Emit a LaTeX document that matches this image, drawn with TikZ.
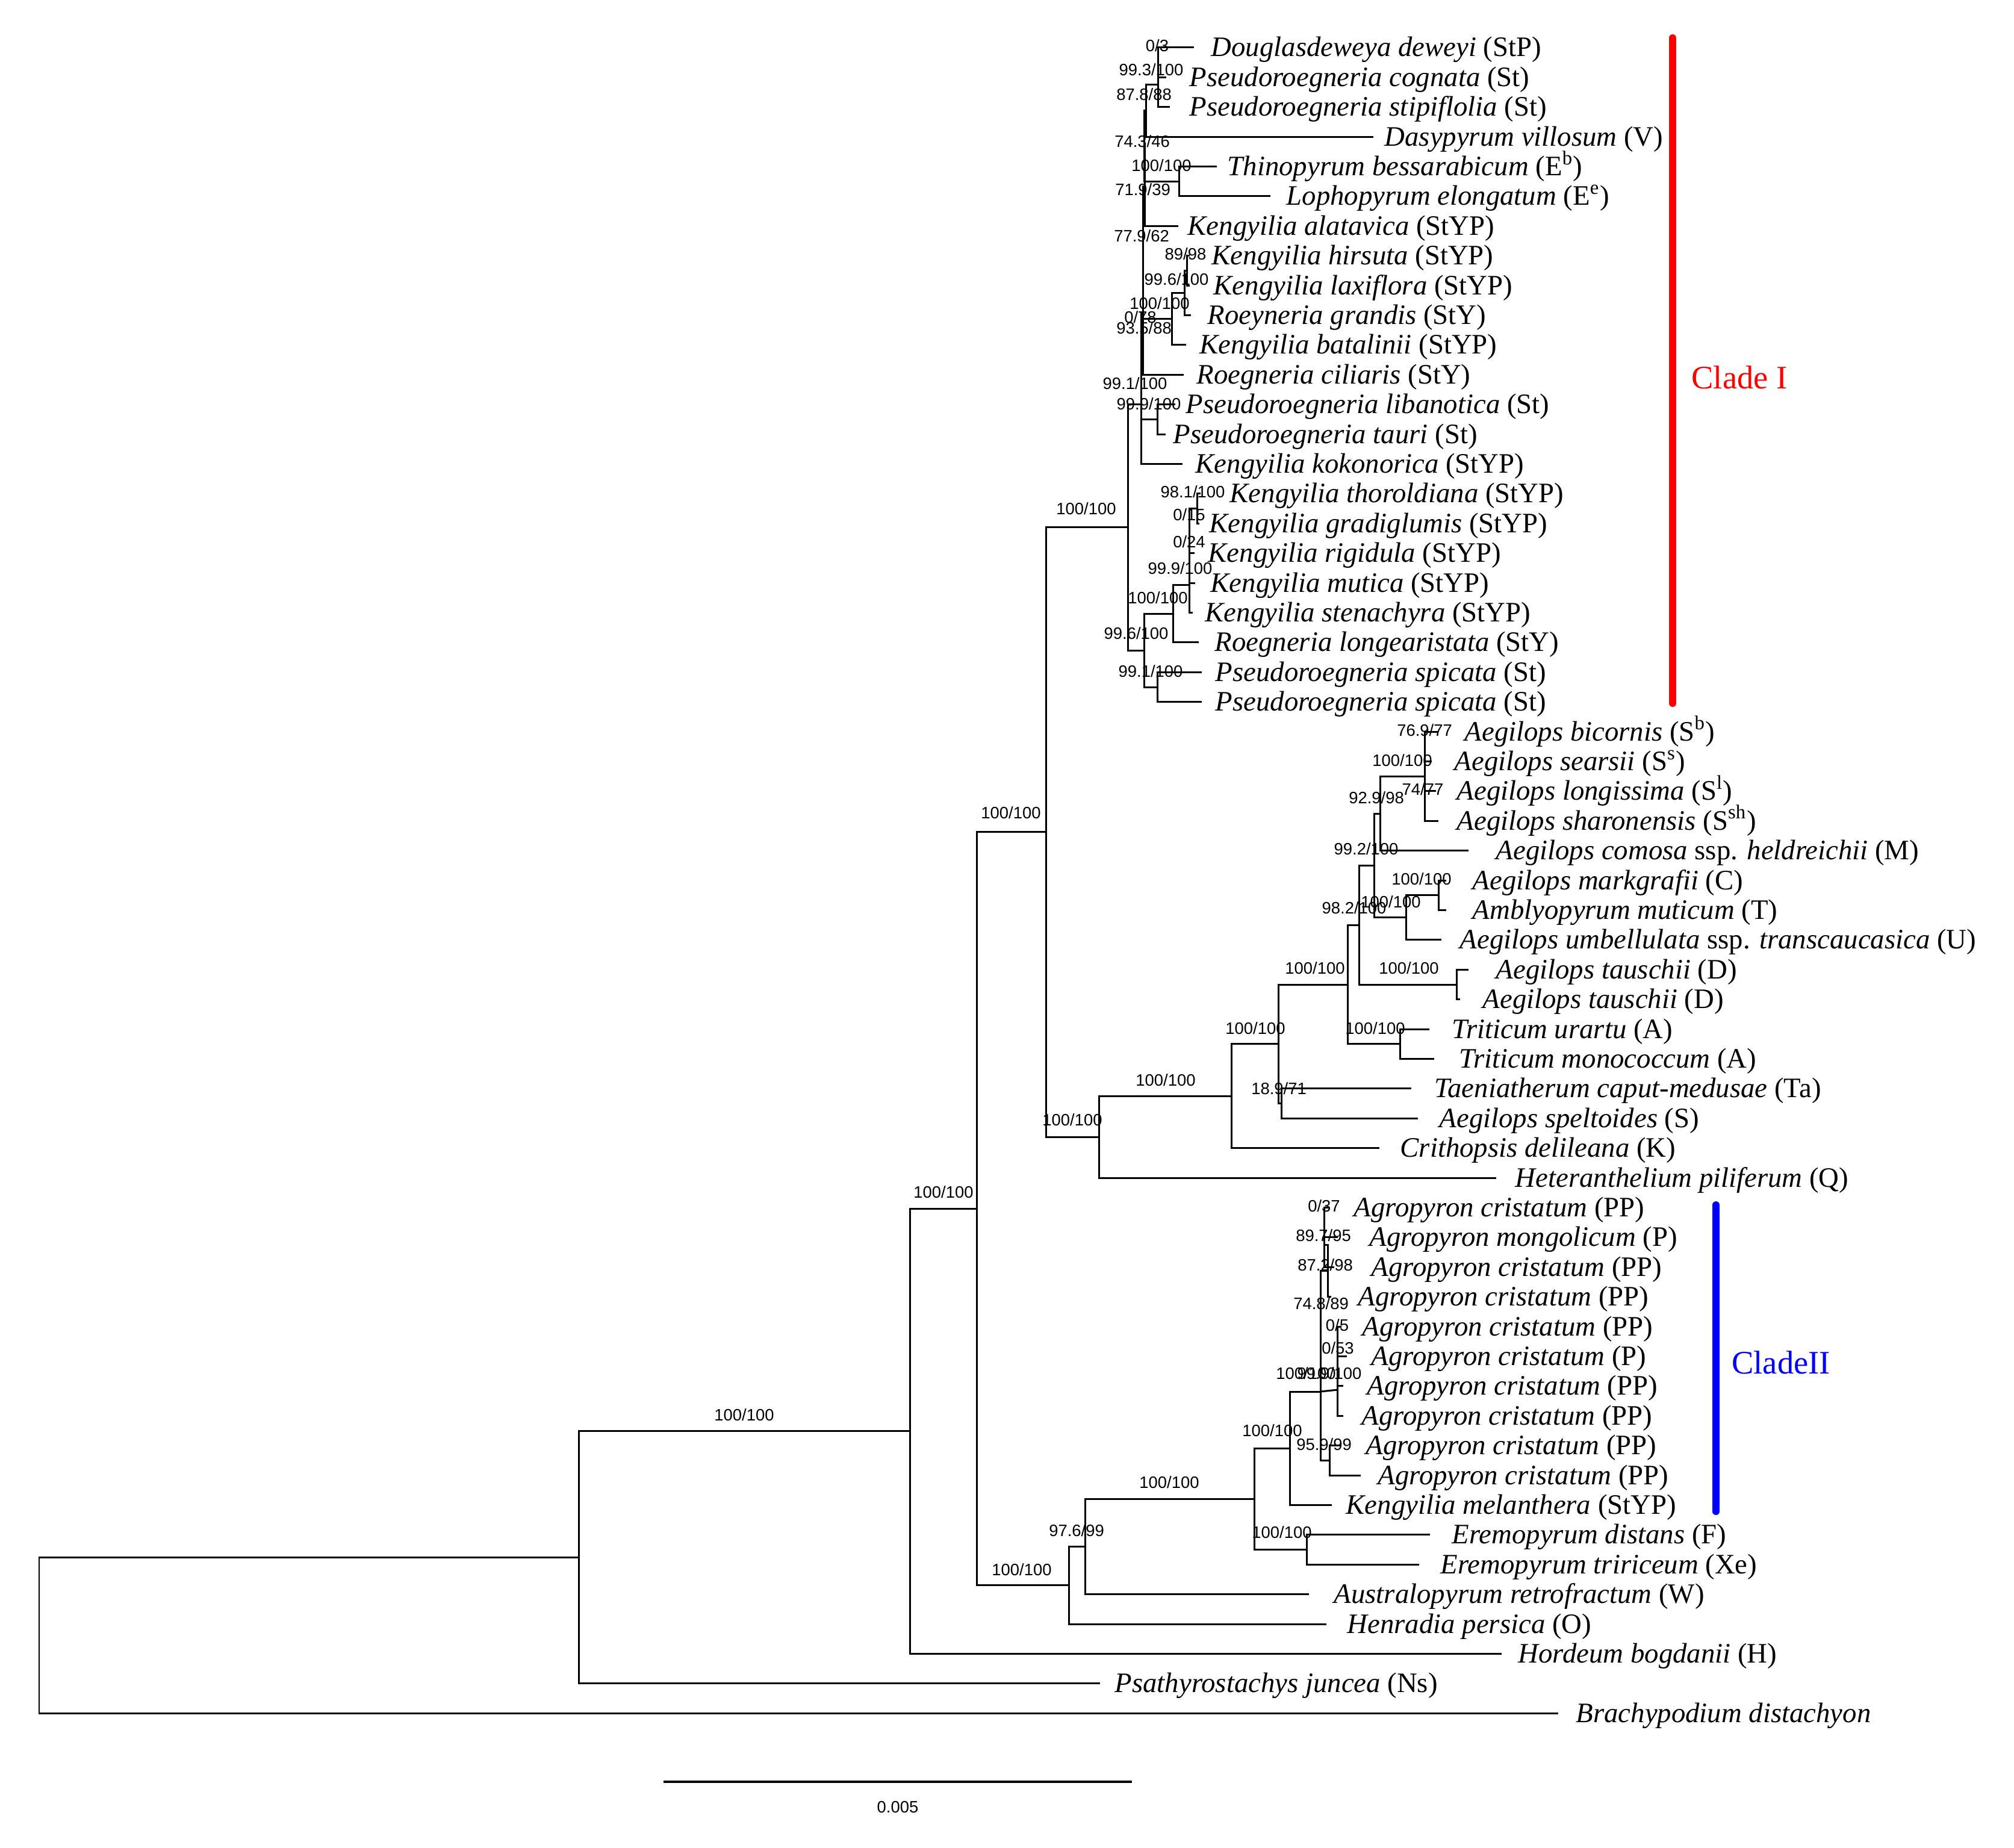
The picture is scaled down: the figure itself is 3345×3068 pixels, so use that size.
\documentclass[tikz,border=0pt]{standalone}
\usepackage{fontspec}
\setmainfont{Liberation Serif}
\newfontfamily\supportfont{Liberation Sans}
\begin{document}
\begin{tikzpicture}[x=0.01cm, y=-0.01cm,
  br/.style={line width=0.85pt, line join=miter},
  tax/.style={anchor=base west, inner sep=0pt, font=\fontsize{13.3}{16}\selectfont},
  sup/.style={anchor=center, inner sep=0pt, font=\supportfont\fontsize{7.8}{9}\selectfont},
  cladebar/.style={line width=3.4pt, line cap=round},
  cladetxt/.style={anchor=center, inner sep=0pt, font=\fontsize{15.5}{18}\selectfont}
]
\useasboundingbox (0,0) rectangle (3345,3068);
% ---------- tip branch ends ----------
\coordinate (t1) at (1983,78.9);   \coordinate (t2) at (1937,128.3);
\coordinate (t3) at (1943,177.7);  \coordinate (t4) at (2281,227.1);
\coordinate (t5) at (2021,276.5);  \coordinate (t6) at (2110,325.9);
\coordinate (t7) at (1957,375.3);  \coordinate (t8) at (1976,424.7);
\coordinate (t9) at (1976,474.1);  \coordinate (t10) at (1978,523.5);
\coordinate (t11) at (1970,572.9); \coordinate (t12) at (1966,622.3);
\coordinate (t13) at (1952,671.7); \coordinate (t14) at (1936,721.1);
\coordinate (t15) at (1964,770.5); \coordinate (t16) at (1994,819.9);
\coordinate (t17) at (1992,869.3); \coordinate (t18) at (1984,918.7);
\coordinate (t19) at (1985,968.1); \coordinate (t20) at (1981,1017.5);
\coordinate (t21) at (1991,1066.9);\coordinate (t22) at (1996,1116.3);
\coordinate (t23) at (1996,1165.7);\coordinate (t24) at (2389,1215.1);
\coordinate (t25) at (2378,1264.5);\coordinate (t26) at (2385,1313.9);
\coordinate (t27) at (2389,1363.3);\coordinate (t28) at (2439,1412.7);
\coordinate (t29) at (2402,1462.1);\coordinate (t30) at (2402,1511.5);
\coordinate (t31) at (2394,1560.9);\coordinate (t32) at (2439,1610.3);
\coordinate (t33) at (2425,1659.7);\coordinate (t34) at (2374,1709.1);
\coordinate (t35) at (2382,1758.5);\coordinate (t36) at (2344,1807.9);
\coordinate (t37) at (2355,1857.3);\coordinate (t38) at (2291,1906.7);
\coordinate (t39) at (2485,1956.1);\coordinate (t40) at (2208,2005.5);
\coordinate (t41) at (2222,2054.9);\coordinate (t42) at (2216,2104.3);
\coordinate (t43) at (2211,2153.7);\coordinate (t44) at (2228,2203.1);
\coordinate (t45) at (2237,2252.5);\coordinate (t46) at (2231,2301.9);
\coordinate (t47) at (2231,2351.3);\coordinate (t48) at (2228,2400.7);
\coordinate (t49) at (2260,2450.1);\coordinate (t50) at (2212,2499.5);
\coordinate (t51) at (2375,2548.9);\coordinate (t52) at (2357,2598.3);
\coordinate (t53) at (2174,2647.7);\coordinate (t54) at (2203,2697.1);
\coordinate (t55) at (2494,2746.5);\coordinate (t56) at (1827,2795.9);
\coordinate (t57) at (2588,2845.3);
% ---------- internal nodes ----------
\coordinate (TA) at (1923,103.6);  \coordinate (TB) at (1923,140.65);
\coordinate (D) at (1903,183.9);   \coordinate (TL) at (1958,301.2);
\coordinate (E) at (1900,242.6);   \coordinate (F) at (1901,309);
\coordinate (KH) at (1971,449.4);  \coordinate (KG) at (1967,486.5);
\coordinate (KB) at (1946,529.7);  \coordinate (G) at (1898,419.4);
\coordinate (H) at (1898,520.9);   \coordinate (LT) at (1922,696.4);
\coordinate (U) at (1895,671);
\coordinate (KT1) at (1988,844.6); \coordinate (KT2) at (1975,881.7);
\coordinate (KT3) at (1975,924.9); \coordinate (KT4) at (1975,971.2);
\coordinate (RL) at (1948,1019.1); \coordinate (SP) at (1922,1141);
\coordinate (L) at (1900,1080.1);  \coordinate (C1) at (1873,875.5);
\coordinate (SA) at (2366,1239.8); \coordinate (SB) at (2366,1338.6);
\coordinate (SG) at (2366,1289.2); \coordinate (AS) at (2292,1351);
\coordinate (MA) at (2389,1486.8); \coordinate (AU) at (2335,1523.9);
\coordinate (AD) at (2282,1437.4); \coordinate (Tau) at (2419,1635);
\coordinate (AC) at (2257,1536.2); \coordinate (TR) at (2325,1733.8);
\coordinate (Z) at (2238,1635);    \coordinate (TS) at (2128,1832.6);
\coordinate (N7) at (2123,1733.8); \coordinate (N6) at (2045,1820.3);
\coordinate (N5) at (1825,1888.2); \coordinate (N4) at (1737,1381.8);
\coordinate (A1) at (2199,2030.2); \coordinate (A2) at (2199,2067.3);
\coordinate (A3) at (2205,2110.5);
\coordinate (P1) at (2221,2227.8); \coordinate (P2) at (2221,2264.9);
\coordinate (P3) at (2221,2308.1); \coordinate (AQ) at (2208,2425.4);
\coordinate (AG) at (2193,2311);   \coordinate (M) at (2142,2405.3);
\coordinate (ER) at (2170,2573.6); \coordinate (EC) at (2083,2489.5);
\coordinate (AR) at (1802,2568.6); \coordinate (NL) at (1775,2632.9);
\coordinate (N3) at (1622,2007.3); \coordinate (N2) at (1511,2376.9);
\coordinate (N1) at (961,2586.4);  \coordinate (R) at (65,2715.8);
% ---------- branches ----------
\draw[br] (t1) -| (TA) |- (t2);
\draw[br] (TA) -| (TB) |- (t3);
\draw[br] (TB) -| (D) |- (t4);
\draw[br] (t5) -| (TL) |- (t6);
\draw[br] (D) -| (E) |- (TL);
\draw[br] (E) -| (F) |- (t7);
\draw[br] (t8) -| (KH) |- (t9);
\draw[br] (KH) -| (KG) |- (t10);
\draw[br] (KG) -| (KB) |- (t11);
\draw[br] (F) -| (G) |- (KB);
\draw[br] (G) -| (H) |- (t12);
\draw[br] (t13) -| (LT) |- (t14);
\draw[br] (H) -| (U) |- (LT);
\draw[br] (U) |- (t15);
\draw[br] (t16) -| (KT1) |- (t17);
\draw[br] (KT1) -| (KT2) |- (t18);
\draw[br] (KT2) -| (KT3) |- (t19);
\draw[br] (KT3) -| (KT4) |- (t20);
\draw[br] (KT4) -| (RL) |- (t21);
\draw[br] (t22) -| (SP) |- (t23);
\draw[br] (RL) -| (L) |- (SP);
\draw[br] (U) -| (C1) |- (L);
\draw[br] (t24) -| (SA) |- (t25);
\draw[br] (t26) -| (SB) |- (t27);
\draw[br] (SA) -| (SG) |- (SB);
\draw[br] (SG) -| (AS) |- (t28);
\draw[br] (t29) -| (MA) |- (t30);
\draw[br] (MA) -| (AU) |- (t31);
\draw[br] (AS) -| (AD) |- (AU);
\draw[br] (t32) -| (Tau) |- (t33);
\draw[br] (AD) -| (AC) |- (Tau);
\draw[br] (t34) -| (TR) |- (t35);
\draw[br] (AC) -| (Z) |- (TR);
\draw[br] (t36) -| (TS) |- (t37);
\draw[br] (Z) -| (N7) |- (TS);
\draw[br] (N7) -| (N6) |- (t38);
\draw[br] (N6) -| (N5) |- (t39);
\draw[br] (C1) -| (N4) |- (N5);
\draw[br] (t40) -| (A1) |- (t41);
\draw[br] (A1) -| (A2) |- (t42);
\draw[br] (A2) -| (A3) |- (t43);
\draw[br] (t44) -| (P1) |- (t45);
\draw[br] (P1) -| (P2) |- (t46);
\draw[br] (P2) -| (P3) |- (t47);
\draw[br] (t48) -| (AQ) |- (t49);
\draw[br] (A3) -| (AG) |- (AQ);
\draw[br] (AG) -- (P3);
\draw[br] (AG) -| (M) |- (t50);
\draw[br] (t51) -| (ER) |- (t52);
\draw[br] (M) -| (EC) |- (ER);
\draw[br] (EC) -| (AR) |- (t53);
\draw[br] (AR) -| (NL) |- (t54);
\draw[br] (N4) -| (N3) |- (NL);
\draw[br] (N3) -| (N2) |- (t55);
\draw[br] (N2) -| (N1) |- (t56);
\draw[br] (N1) -| (R) |- (t57);
% ---------- taxon labels ----------
\node[tax] (l1) at (2011,93.9) {\textit{Douglasdeweya deweyi} (StP)};
\node[tax] (l2) at (1975,143.3) {\textit{Pseudoroegneria cognata} (St)};
\node[tax] (l3) at (1975,192.7) {\textit{Pseudoroegneria stipiflolia} (St)};
\node[tax] (l4) at (2299,242.1) {\textit{Dasypyrum villosum} (V)};
\node[tax] (l5) at (2038,291.5) {\textit{Thinopyrum bessarabicum} (E\textsuperscript{b})};
\node[tax] (l6) at (2136,340.9) {\textit{Lophopyrum elongatum} (E\textsuperscript{e})};
\node[tax] (l7) at (1972,390.3) {\textit{Kengyilia alatavica} (StYP)};
\node[tax] (l8) at (2012,439.7) {\textit{Kengyilia hirsuta} (StYP)};
\node[tax] (l9) at (2015,489.1) {\textit{Kengyilia laxiflora} (StYP)};
\node[tax] (l10) at (2005,538.5) {\textit{Roeyneria grandis} (StY)};
\node[tax] (l11) at (1992,587.9) {\textit{Kengyilia batalinii} (StYP)};
\node[tax] (l12) at (1987,637.3) {\textit{Roegneria ciliaris} (StY)};
\node[tax] (l13) at (1969,686.7) {\textit{Pseudoroegneria libanotica} (St)};
\node[tax] (l14) at (1948,736.1) {\textit{Pseudoroegneria tauri} (St)};
\node[tax] (l15) at (1985,785.5) {\textit{Kengyilia kokonorica} (StYP)};
\node[tax] (l16) at (2042,834.9) {\textit{Kengyilia thoroldiana} (StYP)};
\node[tax] (l17) at (2008,884.3) {\textit{Kengyilia gradiglumis} (StYP)};
\node[tax] (l18) at (2006,933.7) {\textit{Kengyilia rigidula} (StYP)};
\node[tax] (l19) at (2010,983.1) {\textit{Kengyilia mutica} (StYP)};
\node[tax] (l20) at (2001,1032.5) {\textit{Kengyilia stenachyra} (StYP)};
\node[tax] (l21) at (2017,1081.9) {\textit{Roegneria longearistata} (StY)};
\node[tax] (l22) at (2018,1131.3) {\textit{Pseudoroegneria spicata} (St)};
\node[tax] (l23) at (2018,1180.7) {\textit{Pseudoroegneria spicata} (St)};
\node[tax] (l24) at (2432,1230.1) {\textit{Aegilops bicornis} (S\textsuperscript{b})};
\node[tax] (l25) at (2415,1279.5) {\textit{Aegilops searsii} (S\textsuperscript{s})};
\node[tax] (l26) at (2419,1328.9) {\textit{Aegilops longissima} (S\textsuperscript{l})};
\node[tax] (l27) at (2419,1378.3) {\textit{Aegilops sharonensis} (S\textsuperscript{sh})};
\node[tax] (l28) at (2484,1427.7) {\textit{Aegilops comosa} ssp. \textit{heldreichii} (M)};
\node[tax] (l29) at (2445,1477.1) {\textit{Aegilops markgrafii} (C)};
\node[tax] (l30) at (2445,1526.5) {\textit{Amblyopyrum muticum} (T)};
\node[tax] (l31) at (2424,1575.9) {\textit{Aegilops umbellulata} ssp. \textit{transcaucasica} (U)};
\node[tax] (l32) at (2484,1625.3) {\textit{Aegilops tauschii} (D)};
\node[tax] (l33) at (2462,1674.7) {\textit{Aegilops tauschii} (D)};
\node[tax] (l34) at (2411,1724.1) {\textit{Triticum urartu} (A)};
\node[tax] (l35) at (2423,1773.5) {\textit{Triticum monococcum} (A)};
\node[tax] (l36) at (2382,1822.9) {\textit{Taeniatherum caput-medusae} (Ta)};
\node[tax] (l37) at (2390,1872.3) {\textit{Aegilops speltoides} (S)};
\node[tax] (l38) at (2325,1921.7) {\textit{Crithopsis delileana} (K)};
\node[tax] (l39) at (2516,1971.1) {\textit{Heteranthelium piliferum} (Q)};
\node[tax] (l40) at (2248,2020.5) {\textit{Agropyron cristatum} (PP)};
\node[tax] (l41) at (2274,2069.9) {\textit{Agropyron mongolicum} (P)};
\node[tax] (l42) at (2277,2119.3) {\textit{Agropyron cristatum} (PP)};
\node[tax] (l43) at (2255,2168.7) {\textit{Agropyron cristatum} (PP)};
\node[tax] (l44) at (2262,2218.1) {\textit{Agropyron cristatum} (PP)};
\node[tax] (l45) at (2277,2267.5) {\textit{Agropyron cristatum} (P)};
\node[tax] (l46) at (2270,2316.9) {\textit{Agropyron cristatum} (PP)};
\node[tax] (l47) at (2261,2366.3) {\textit{Agropyron cristatum} (PP)};
\node[tax] (l48) at (2268,2415.7) {\textit{Agropyron cristatum} (PP)};
\node[tax] (l49) at (2288,2465.1) {\textit{Agropyron cristatum} (PP)};
\node[tax] (l50) at (2235,2514.5) {\textit{Kengyilia melanthera} (StYP)};
\node[tax] (l51) at (2411,2563.9) {\textit{Eremopyrum distans} (F)};
\node[tax] (l52) at (2392,2613.3) {\textit{Eremopyrum tririceum} (Xe)};
\node[tax] (l53) at (2215,2662.7) {\textit{Australopyrum retrofractum} (W)};
\node[tax] (l54) at (2237,2712.1) {\textit{Henradia persica} (O)};
\node[tax] (l55) at (2521,2761.5) {\textit{Hordeum bogdanii} (H)};
\node[tax] (l56) at (1851,2810.9) {\textit{Psathyrostachys juncea} (Ns)};
\node[tax] (l57) at (2617,2860.3) {\textit{Brachypodium distachyon}};
% ---------- support values ----------
\node[sup] (s1) at (1922,76) {0/3};
\node[sup] (s2) at (1912,116) {99.3/100};
\node[sup] (s3) at (1900,157) {87.8/88};
\node[sup] (s4) at (1897,235) {74.3/46};
\node[sup] (s5) at (1929,275) {100/100};
\node[sup] (s6) at (1898,315) {71.9/39};
\node[sup] (s7) at (1896,392) {77.9/62};
\node[sup] (s8) at (1969,422) {89/98};
\node[sup] (s9) at (1954,464) {99.6/100};
\node[sup] (s10) at (1926,504) {100/100};
\node[sup] (s11) at (1894,527) {0/78};
\node[sup] (s12) at (1900,545) {93.5/88};
\node[sup] (s13) at (1885,637) {99.1/100};
\node[sup] (s14) at (1908,671) {99.9/100};
\node[sup] (s15) at (1981,817) {98.1/100};
\node[sup] (s16) at (1975,855) {0/15};
\node[sup] (s17) at (1975,900) {0/24};
\node[sup] (s18) at (1960,944) {99.9/100};
\node[sup] (s19) at (1923,993) {100/100};
\node[sup] (s20) at (1887,1052) {99.6/100};
\node[sup] (s21) at (1911,1115) {99.1/100};
\node[sup] (s22) at (1804,845) {100/100};
\node[sup] (s23) at (1679,1350) {100/100};
\node[sup] (s24) at (2366,1213) {76.9/77};
\node[sup] (s25) at (2329,1263) {100/100};
\node[sup] (s26) at (2363,1311) {74/77};
\node[sup] (s27) at (2286,1325) {92.9/98};
\node[sup] (s28) at (2269,1410) {99.2/100};
\node[sup] (s29) at (2361,1460) {100/100};
\node[sup] (s30) at (2310,1498) {100/100};
\node[sup] (s31) at (2249,1508) {98.2/100};
\node[sup] (s32) at (2340,1608) {100/100};
\node[sup] (s33) at (2184,1608) {100/100};
\node[sup] (s34) at (2284,1708) {100/100};
\node[sup] (s35) at (2085,1708) {100/100};
\node[sup] (s36) at (1936,1794) {100/100};
\node[sup] (s37) at (2124,1808) {18.9/71};
\node[sup] (s38) at (1781,1860) {100/100};
\node[sup] (s39) at (2199,2003) {0/37};
\node[sup] (s40) at (2198,2052) {89.7/95};
\node[sup] (s41) at (2201,2101) {87.2/98};
\node[sup] (s42) at (2194,2165) {74.8/89};
\node[sup] (s43) at (2221,2201) {0/5};
\node[sup] (s44) at (2222,2239) {0/53};
\node[sup] (s45) at (2169,2281) {100/100};
\node[sup] (s46) at (2208,2281) {99.9/100};
\node[sup] (s47) at (2199,2399) {95.9/99};
\node[sup] (s48) at (2113,2376) {100/100};
\node[sup] (s49) at (1942,2462) {100/100};
\node[sup] (s50) at (2129,2545) {100/100};
\node[sup] (s51) at (1788,2542) {97.6/99};
\node[sup] (s52) at (1697,2607) {100/100};
\node[sup] (s53) at (1567,1980) {100/100};
\node[sup] (s54) at (1236,2350) {100/100};
% ---------- clade bars ----------
\coordinate (ca1) at (2778,63);  \coordinate (ca2) at (2778,1168);
\draw[cladebar, red] (ca1) -- (ca2);
\node[cladetxt, text=red] (cl1) at (2889,627) {Clade I};
\coordinate (cb1) at (2850,2001); \coordinate (cb2) at (2850,2510);
\draw[cladebar, blue] (cb1) -- (cb2);
\node[cladetxt, text=blue] (cl2) at (2958,2263) {CladeII};
% ---------- scale bar ----------
\coordinate (sb1) at (1102,2959); \coordinate (sb2) at (1880,2959);
\draw[line width=1pt] (sb1) -- (sb2);
\node[sup] (sbl) at (1491,3001) {0.005};
\end{tikzpicture}
\end{document}
